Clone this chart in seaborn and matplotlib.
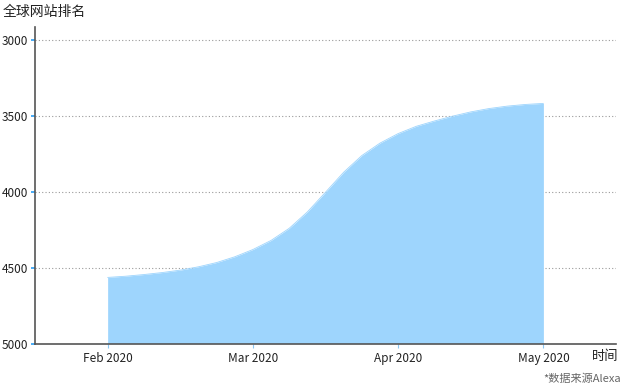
import matplotlib
matplotlib.use("Agg")
import matplotlib.pyplot as plt
import seaborn as sns
import pandas as pd

# 月份刻度
months = ['Feb 2020', 'Mar 2020', 'Apr 2020', 'May 2020']
# 采样位置（以月为单位，0 = Feb 2020）
t = [0, 0.125, 0.25, 0.375, 0.5, 0.625, 0.75, 0.875,
     1.0, 1.125, 1.25, 1.375, 1.5, 1.625, 1.75, 1.875,
     2.0, 2.125, 2.25, 2.375, 2.5, 2.625, 2.75, 2.875, 3.0]
# 全球网站排名
rank = [4564, 4556, 4545, 4532, 4516, 4494, 4466, 4428,
        4380, 4320, 4240, 4132, 4002, 3870, 3760, 3678,
        3615, 3567, 3532, 3500, 3472, 3450, 3434, 3423, 3416]
yticks = [3000, 3500, 4000, 4500, 5000]

df = pd.DataFrame({'t': t, 'rank': rank})

sns.set_style("white")
plt.rcParams['font.family'] = ['Noto Sans CJK SC', 'DejaVu Sans']

fig = plt.figure(figsize=(6.23, 3.87), dpi=100)
ax = fig.add_axes([0.0562, 0.1124, 0.9326, 0.8186])

fill_color = '#9ed5fd'
sns.lineplot(data=df, x='t', y='rank', ax=ax, color=fill_color, linewidth=0.6, zorder=2)
ax.fill_between(df['t'], df['rank'], 5000, color=fill_color, linewidth=0, zorder=2)

ax.set_xlim(-0.5, 3.5)
ax.set_ylim(5000, 2910)
ax.set_xticks(range(len(months)))
ax.set_xticklabels(months)
ax.set_yticks(yticks)
ax.set_xlabel('')
ax.set_ylabel('')

# 网格线（虚点线）
for v in yticks[:-1]:
    ax.axhline(v, color='#9a9a9a', linewidth=0.8, linestyle=(0, (1, 2)), zorder=1)

# 坐标轴样式
for side in ['top', 'right']:
    ax.spines[side].set_visible(False)
for side in ['left', 'bottom']:
    ax.spines[side].set_color('#555555')
    ax.spines[side].set_linewidth(1.2)
ax.tick_params(axis='y', length=3, width=1.2, color='#2a9df4', pad=2,
               labelsize=8.5, labelcolor='#222222', left=True)
ax.tick_params(axis='x', length=3, width=0.8, color='#8cc8f5', pad=3,
               labelsize=8.5, labelcolor='#222222', bottom=True, direction='out')

fig.text(0.005, 0.968, '全球网站排名', fontsize=10, color='#222222', va='center', ha='left')
fig.text(0.993, 0.080, '时间', fontsize=9.5, color='#222222', va='center', ha='right')
fig.text(0.997, 0.022, '*数据来源Alexa', fontsize=8, color='#666666', va='center', ha='right')

plt.savefig('out.png', dpi=100)
